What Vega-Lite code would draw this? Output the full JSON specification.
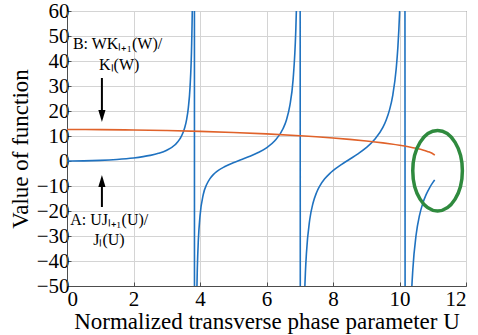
{
  "$schema": "https://vega.github.io/schema/vega-lite/v6.json",
  "width": 399,
  "height": 275,
  "autosize": {"type": "none"},
  "padding": {"left": 67, "top": 11, "right": 12, "bottom": 49},
  "background": "white",
  "config": {
    "font": "'Liberation Serif', serif",
    "view": {"stroke": "#4d4d4d", "strokeWidth": 1},
    "axis": {
      "labelFontSize": 21,
      "labelColor": "#000000",
      "titleFontSize": 23,
      "titleFontWeight": "normal",
      "titleColor": "#000000",
      "gridColor": "#d4d4d4",
      "gridWidth": 1,
      "domainColor": "#4d4d4d",
      "ticks": true,
      "tickSize": -4,
      "tickColor": "#4d4d4d",
      "labelPadding": 2
    }
  },
  "datasets": {
    "curves": [
      {"U": 0, "value": 0, "series": "A"},
      {"U": 0.5, "value": 0.063, "series": "A"},
      {"U": 1.0, "value": 0.261, "series": "A"},
      {"U": 1.5, "value": 0.624, "series": "A"},
      {"U": 2.0, "value": 1.224, "series": "A"},
      {"U": 2.5, "value": 2.243, "series": "A"},
      {"U": 2.75, "value": 3.06, "series": "A"},
      {"U": 3.0, "value": 4.30, "series": "A"},
      {"U": 3.25, "value": 6.48, "series": "A"},
      {"U": 3.4, "value": 8.92, "series": "A"},
      {"U": 3.5, "value": 11.68, "series": "A"},
      {"U": 3.55, "value": 13.78, "series": "A"},
      {"U": 3.6, "value": 16.77, "series": "A"},
      {"U": 3.65, "value": 21.38, "series": "A"},
      {"U": 3.7, "value": 29.44, "series": "A"},
      {"U": 3.75, "value": 47.3, "series": "A"},
      {"U": 3.77, "value": 62.5, "series": "A"},
      {"U": 3.8, "value": 121.3, "series": "A"},
      {"U": 3.825, "value": 572, "series": "A"},
      {"U": 3.84, "value": -461, "series": "A"},
      {"U": 3.88, "value": -78.7, "series": "A"},
      {"U": 3.9, "value": -55.5, "series": "A"},
      {"U": 3.92, "value": -42.8, "series": "A"},
      {"U": 3.95, "value": -31.7, "series": "A"},
      {"U": 4.0, "value": -22.07, "series": "A"},
      {"U": 4.1, "value": -13.3, "series": "A"},
      {"U": 4.2, "value": -9.41, "series": "A"},
      {"U": 4.3, "value": -7.03, "series": "A"},
      {"U": 4.4, "value": -5.43, "series": "A"},
      {"U": 4.5, "value": -4.24, "series": "A"},
      {"U": 4.75, "value": -2.22, "series": "A"},
      {"U": 5.0, "value": -0.71, "series": "A"},
      {"U": 5.25, "value": 0.57, "series": "A"},
      {"U": 5.5, "value": 1.89, "series": "A"},
      {"U": 5.75, "value": 3.38, "series": "A"},
      {"U": 6.0, "value": 5.27, "series": "A"},
      {"U": 6.25, "value": 8.07, "series": "A"},
      {"U": 6.5, "value": 12.99, "series": "A"},
      {"U": 6.6, "value": 16.44, "series": "A"},
      {"U": 6.7, "value": 22.02, "series": "A"},
      {"U": 6.8, "value": 32.55, "series": "A"},
      {"U": 6.88, "value": 51.9, "series": "A"},
      {"U": 6.9, "value": 60.9, "series": "A"},
      {"U": 6.95, "value": 107.3, "series": "A"},
      {"U": 7.0, "value": 450, "series": "A"},
      {"U": 7.03, "value": -487, "series": "A"},
      {"U": 7.1, "value": -82.4, "series": "A"},
      {"U": 7.15, "value": -51.4, "series": "A"},
      {"U": 7.17, "value": -44.6, "series": "A"},
      {"U": 7.2, "value": -37.1, "series": "A"},
      {"U": 7.3, "value": -23.5, "series": "A"},
      {"U": 7.4, "value": -16.8, "series": "A"},
      {"U": 7.5, "value": -12.77, "series": "A"},
      {"U": 7.6, "value": -10.04, "series": "A"},
      {"U": 7.75, "value": -7.14, "series": "A"},
      {"U": 7.9, "value": -5.02, "series": "A"},
      {"U": 8.0, "value": -3.86, "series": "A"},
      {"U": 8.25, "value": -1.45, "series": "A"},
      {"U": 8.5, "value": 0.70, "series": "A"},
      {"U": 8.75, "value": 2.85, "series": "A"},
      {"U": 9.0, "value": 5.31, "series": "A"},
      {"U": 9.25, "value": 8.56, "series": "A"},
      {"U": 9.5, "value": 13.42, "series": "A"},
      {"U": 9.6, "value": 16.4, "series": "A"},
      {"U": 9.7, "value": 20.45, "series": "A"},
      {"U": 9.8, "value": 26.49, "series": "A"},
      {"U": 9.9, "value": 36.79, "series": "A"},
      {"U": 9.95, "value": 45.27, "series": "A"},
      {"U": 10.0, "value": 58.5, "series": "A"},
      {"U": 10.05, "value": 82.5, "series": "A"},
      {"U": 10.1, "value": 138.7, "series": "A"},
      {"U": 10.15, "value": 433, "series": "A"},
      {"U": 10.19, "value": -616, "series": "A"},
      {"U": 10.25, "value": -132.2, "series": "A"},
      {"U": 10.3, "value": -79.5, "series": "A"},
      {"U": 10.35, "value": -56.5, "series": "A"},
      {"U": 10.4, "value": -43.6, "series": "A"},
      {"U": 10.5, "value": -29.5, "series": "A"},
      {"U": 10.6, "value": -21.87, "series": "A"},
      {"U": 10.7, "value": -16.95, "series": "A"},
      {"U": 10.8, "value": -13.46, "series": "A"},
      {"U": 10.9, "value": -10.81, "series": "A"},
      {"U": 11.0, "value": -8.65, "series": "A"},
      {"U": 11.05, "value": -7.74, "series": "A"},
      {"U": 11.06, "value": -7.57, "series": "A"},
      {"U": 0, "value": 12.60, "series": "B"},
      {"U": 1, "value": 12.556, "series": "B"},
      {"U": 2, "value": 12.419, "series": "B"},
      {"U": 3, "value": 12.188, "series": "B"},
      {"U": 4, "value": 11.855, "series": "B"},
      {"U": 5, "value": 11.411, "series": "B"},
      {"U": 6, "value": 10.839, "series": "B"},
      {"U": 7, "value": 10.114, "series": "B"},
      {"U": 7.5, "value": 9.683, "series": "B"},
      {"U": 8, "value": 9.194, "series": "B"},
      {"U": 8.5, "value": 8.637, "series": "B"},
      {"U": 9, "value": 7.995, "series": "B"},
      {"U": 9.5, "value": 7.237, "series": "B"},
      {"U": 9.75, "value": 6.800, "series": "B"},
      {"U": 10, "value": 6.310, "series": "B"},
      {"U": 10.15, "value": 5.984, "series": "B"},
      {"U": 10.3, "value": 5.626, "series": "B"},
      {"U": 10.5, "value": 5.083, "series": "B"},
      {"U": 10.6, "value": 4.78, "series": "B"},
      {"U": 10.7, "value": 4.44, "series": "B"},
      {"U": 10.8, "value": 4.04, "series": "B"},
      {"U": 10.9, "value": 3.565, "series": "B"},
      {"U": 10.95, "value": 3.274, "series": "B"},
      {"U": 11.0, "value": 2.919, "series": "B"},
      {"U": 11.03, "value": 2.647, "series": "B"},
      {"U": 11.05, "value": 2.412, "series": "B"},
      {"U": 11.06, "value": 2.257, "series": "B"}
    ],
    "shafts": [
      {"U": 1.05, "value": 33.2, "value2": 19.5},
      {"U": 1.05, "value": -9.5, "value2": -18.4}
    ],
    "heads": [
      {"U": 1.05, "value": 18, "dir": "down"},
      {"U": 1.05, "value": -8, "dir": "up"}
    ],
    "notes": [
      {"U": 1.52, "value": 46.8, "label": "B: WKₗ₊₁(W)/"},
      {"U": 1.57, "value": 38.4, "label": "Kₗ(W)"},
      {"U": 1.27, "value": -23.6, "label": "A: UJₗ₊₁(U)/"},
      {"U": 1.26, "value": -31.6, "label": "Jₗ(U)"}
    ],
    "circled": [
      {"U": 11.145, "value": -3.9}
    ]
  },
  "encoding": {
    "x": {
      "field": "U", "type": "quantitative",
      "scale": {"domain": [0, 12], "nice": false},
      "axis": {
        "values": [0, 2, 4, 6, 8, 10, 12],
        "title": "Normalized transverse phase parameter U",
        "titlePadding": 1,
        "labelPadding": 6,
        "labelFont": "'Liberation Serif', serif",
        "titleFont": "'Liberation Serif', serif"
      }
    },
    "y": {
      "field": "value", "type": "quantitative",
      "scale": {"domain": [-50, 60], "nice": false},
      "axis": {
        "values": [-50, -40, -30, -20, -10, 0, 10, 20, 30, 40, 50, 60],
        "title": "Value of function",
        "titlePadding": 4,
        "labelFont": "'Liberation Serif', serif",
        "titleFont": "'Liberation Serif', serif"
      }
    }
  },
  "layer": [
    {
      "data": {"name": "curves"},
      "mark": {"type": "line", "clip": true, "interpolate": "monotone", "strokeWidth": 1.6},
      "encoding": {
        "color": {
          "field": "series", "type": "nominal",
          "scale": {"domain": ["A", "B"], "range": ["#1f72c0", "#e0622a"]},
          "legend": null
        }
      }
    },
    {
      "data": {"name": "shafts"},
      "mark": {"type": "rule", "color": "#000000", "strokeWidth": 2},
      "encoding": {
        "y2": {"field": "value2"}
      }
    },
    {
      "data": {"name": "heads"},
      "mark": {"type": "point", "filled": true, "color": "#000000", "opacity": 1, "size": 144, "strokeWidth": 0},
      "encoding": {
        "shape": {
          "field": "dir", "type": "nominal",
          "scale": {"domain": ["down", "up"], "range": ["M -0.6 -1 L 0.6 -1 L 0 1 Z", "M -0.6 1 L 0.6 1 L 0 -1 Z"]},
          "legend": null
        }
      }
    },
    {
      "data": {"name": "notes"},
      "mark": {"type": "text", "font": "'Liberation Serif', serif", "fontSize": 16, "color": "#000000", "align": "center", "baseline": "middle"},
      "encoding": {
        "text": {"field": "label"}
      }
    },
    {
      "data": {"name": "circled"},
      "mark": {
        "type": "point", "filled": false, "stroke": "#2f8a3e", "strokeWidth": 3.5, "opacity": 1,
        "size": 6464,
        "shape": "M -0.617 0 A 0.617 1 0 1 0 0.617 0 A 0.617 1 0 1 0 -0.617 0 Z"
      }
    }
  ]
}
